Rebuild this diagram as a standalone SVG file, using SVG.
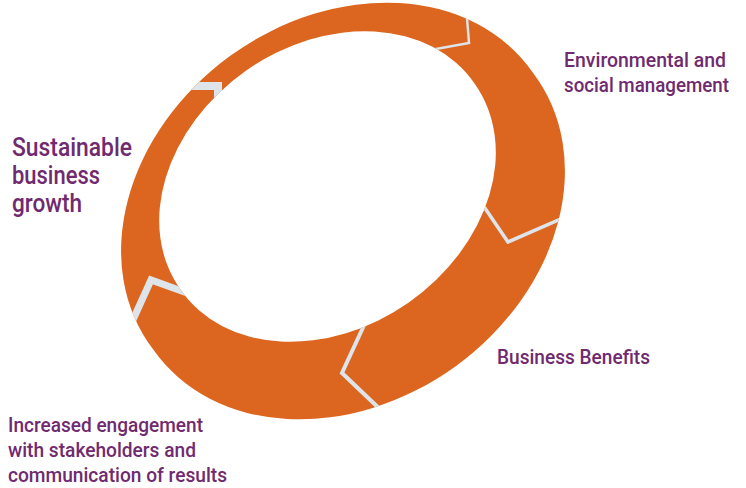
<svg xmlns="http://www.w3.org/2000/svg" width="746" height="488" viewBox="0 0 746 488">
<style>
.lbl{font-family:"Roboto","Liberation Sans",sans-serif;font-weight:500;fill:#702a70}
.big{font-size:25.5px}
.sm{font-size:20px}
.div{fill:none;stroke:#dde4ea;stroke-linejoin:miter;stroke-miterlimit:10}
</style>
<defs>
<path id="ringPath" fill-rule="evenodd" clip-rule="evenodd" d="M533.1,72.9 A235,188.6 -36 1 1 152.9,349.1 A235,188.6 -36 1 1 533.1,72.9 Z M474.5,83.5 A179.5,140.4 -35 1 1 180.5,289.5 A179.5,140.4 -35 1 1 474.5,83.5 Z"/>
<clipPath id="ringClip"><use href="#ringPath"/></clipPath>
</defs>
<rect width="746" height="488" fill="#ffffff"/>
<g id="ring">
<use href="#ringPath" fill="#dc661f"/>
</g>
<g id="connectors" clip-path="url(#ringClip)">
<polyline class="div" stroke-width="2.5" points="466,5 469,43 425,51"/>
<polyline class="div" stroke-width="3.5" points="476,195 508,242 570,215"/>
<polyline class="div" stroke-width="4" points="372,308 342,373 385,414"/>
<polyline class="div" stroke-width="7" points="127,333 151,280 190,294"/>
<polyline class="div" stroke-width="8" points="190,86 218,86 218,110"/>
</g>
<g id="node-sustainable">
<text class="lbl big" x="12" y="156" textLength="120" lengthAdjust="spacingAndGlyphs">Sustainable</text>
<text class="lbl big" x="12" y="184" textLength="88" lengthAdjust="spacingAndGlyphs">business</text>
<text class="lbl big" x="12" y="212" textLength="70" lengthAdjust="spacingAndGlyphs">growth</text>
</g>
<g id="node-environmental">
<text class="lbl sm" x="564" y="67" textLength="162" lengthAdjust="spacingAndGlyphs">Environmental and</text>
<text class="lbl sm" x="564" y="92" textLength="165" lengthAdjust="spacingAndGlyphs">social management</text>
</g>
<g id="node-benefits">
<text class="lbl sm" x="497" y="364" textLength="153" lengthAdjust="spacingAndGlyphs">Business Benefits</text>
</g>
<g id="node-engagement">
<text class="lbl sm" x="8" y="432" textLength="195" lengthAdjust="spacingAndGlyphs">Increased engagement</text>
<text class="lbl sm" x="8" y="457" textLength="188" lengthAdjust="spacingAndGlyphs">with stakeholders and</text>
<text class="lbl sm" x="8" y="482" textLength="219" lengthAdjust="spacingAndGlyphs">communication of results</text>
</g>
</svg>
